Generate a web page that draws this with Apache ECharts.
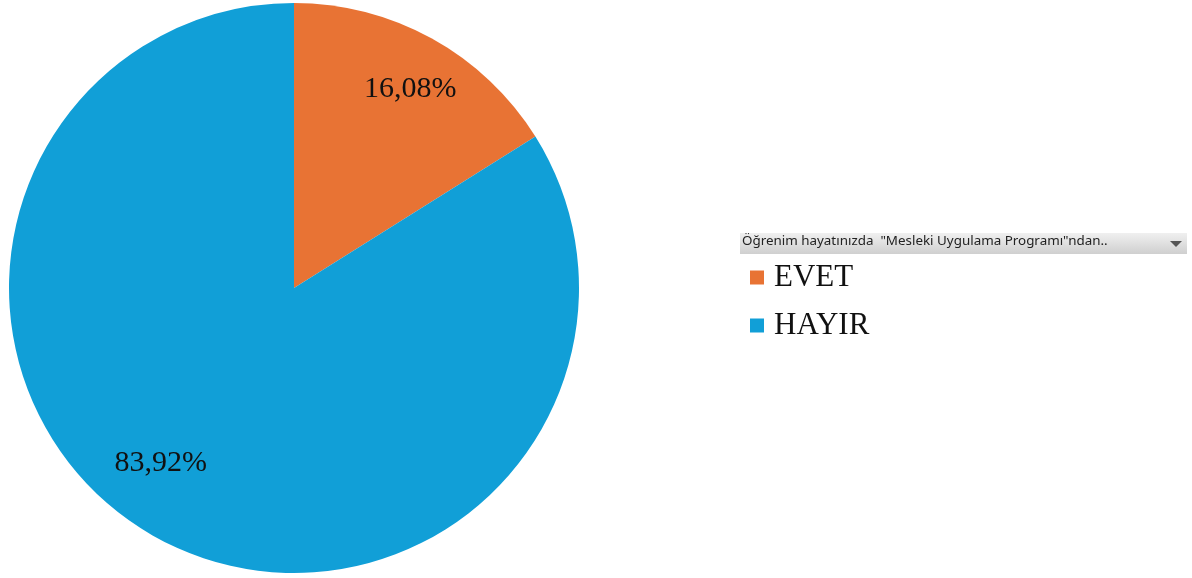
<!DOCTYPE html>
<html><head><meta charset="utf-8">
<script src="https://cdn.jsdelivr.net/npm/echarts@6/dist/echarts.min.js"></script>
<style>html,body{margin:0;padding:0;background:#fff;}#c{width:1192px;height:578px;}</style>
</head><body><div id="c"></div>
<script>
const categories = ['EVET', 'HAYIR'];
const values = [16.08, 83.92];
const labels = ['16,08%', '83,92%'];
const colors = ['#E87334', '#119FD7'];
const headerText = 'Öğrenim hayatınızda  "Mesleki Uygulama Programı"ndan..';

const chart = echarts.init(document.getElementById('c'));
const data = categories.map((n, i) => ({ name: n, value: values[i], itemStyle: { color: colors[i] } }));
const labelShift = [[6, 1], [-23, -24]];
chart.setOption({
  animation: false,
  legend: {
    orient: 'vertical', left: 750, top: 262, padding: 0,
    itemWidth: 14, itemHeight: 14, itemGap: 17,
    icon: 'rect',
    data: categories,
    textStyle: { fontFamily: 'Liberation Serif', fontSize: 31, color: '#111', padding: [0, 0, 0, 5] }
  },
  graphic: [
    { type: 'rect', left: 740, top: 233, shape: { width: 447, height: 21 },
      style: { fill: new echarts.graphic.LinearGradient(0, 0, 0, 1, [
        { offset: 0, color: '#f0f0f0' }, { offset: 1, color: '#cfcfcf' }]) } },
    { type: 'text', left: 742, top: 235,
      style: { text: headerText, fontFamily: 'Noto Sans, sans-serif', fontSize: 13.4, fill: '#222' } },
    { type: 'polygon', shape: { points: [[1170, 241], [1182, 241], [1176, 247]] }, style: { fill: '#555' } }
  ],
  series: [
    {
      type: 'pie', center: [294, 288], radius: [0, 285], startAngle: 90, clockwise: true,
      label: { show: false }, labelLine: { show: false }, silent: true,
      data: data
    },
    {
      type: 'pie', center: [294, 288], radius: [165, 285], startAngle: 90, clockwise: true,
      silent: true,
      itemStyle: { color: 'rgba(0,0,0,0)' },
      label: {
        show: true, position: 'inside',
        fontFamily: 'Liberation Serif', fontSize: 30, color: '#111',
        formatter: p => labels[p.dataIndex]
      },
      labelLayout: p => ({ dx: labelShift[p.dataIndex][0], dy: labelShift[p.dataIndex][1] }),
      labelLine: { show: false },
      data: categories.map((n, i) => ({ name: n, value: values[i], itemStyle: { color: 'rgba(0,0,0,0)' } }))
    }
  ]
});
</script></body></html>
